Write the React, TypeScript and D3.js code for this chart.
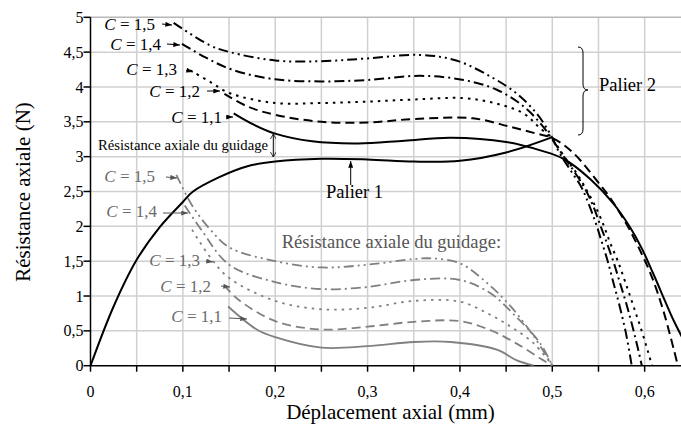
import * as d3 from 'd3';

type Pt = [number, number];

// x ticks (mm) and y ticks (N)
const xLabelTicks = [0, 0.1, 0.2, 0.3, 0.4, 0.5, 0.6];
const xMinorTicks = [0, 0.05, 0.1, 0.15, 0.2, 0.25, 0.3, 0.35, 0.4, 0.45, 0.5, 0.55, 0.6];
const yTicks = [0, 0.5, 1, 1.5, 2, 2.5, 3, 3.5, 4, 4.5, 5];

// common rising branch (Palier 1)
const palier1: Pt[] = [
  [0, 0], [0.025, 0.85], [0.05, 1.52], [0.075, 1.99], [0.1, 2.35], [0.111, 2.5],
  [0.14, 2.71], [0.169, 2.86], [0.2, 2.93], [0.25, 2.97], [0.3, 2.96], [0.35, 2.93],
  [0.4, 2.94], [0.45, 3.06], [0.5, 3.28],
];

// total resistance, C = 1,5 ... 1,1
const up15: Pt[] = [
  [0.09, 4.92], [0.129, 4.6], [0.151, 4.5], [0.2, 4.38], [0.25, 4.37], [0.3, 4.41],
  [0.357, 4.46], [0.396, 4.38], [0.433, 4.15], [0.461, 3.91], [0.483, 3.62], [0.4975, 3.33],
  [0.508, 3.05], [0.52, 2.8], [0.532, 2.55], [0.54, 2.3], [0.547, 2.05], [0.553, 1.8],
  [0.56, 1.5], [0.566, 1.2], [0.573, 0.85], [0.58, 0.45], [0.586, 0],
];
const up14: Pt[] = [
  [0.099, 4.62], [0.125, 4.42], [0.155, 4.24], [0.2, 4.11], [0.25, 4.08], [0.3, 4.1],
  [0.357, 4.16], [0.404, 4.1], [0.44, 3.96], [0.469, 3.72], [0.49, 3.43],
  [0.51, 3.05], [0.523, 2.8], [0.535, 2.55], [0.544, 2.3], [0.551, 2.05], [0.558, 1.8],
  [0.566, 1.5], [0.573, 1.2], [0.581, 0.85], [0.589, 0.45], [0.597, 0],
];
const up13: Pt[] = [
  [0.108, 4.24], [0.13, 4.07], [0.151, 3.91], [0.2, 3.77], [0.25, 3.77], [0.3, 3.79],
  [0.35, 3.82], [0.404, 3.84], [0.44, 3.76], [0.469, 3.62], [0.485, 3.43], [0.5, 3.25],
  [0.513, 3.0], [0.527, 2.75], [0.538, 2.5], [0.548, 2.25], [0.556, 2.0], [0.563, 1.75],
  [0.571, 1.5], [0.579, 1.2], [0.588, 0.85], [0.598, 0.45], [0.608, 0],
];
const up12: Pt[] = [
  [0.145, 3.9], [0.17, 3.72], [0.2, 3.6], [0.25, 3.5], [0.3, 3.49], [0.35, 3.54],
  [0.414, 3.55], [0.454, 3.43], [0.483, 3.33], [0.5, 3.27], [0.523, 3.05], [0.548, 2.66],
  [0.562, 2.42], [0.58, 2.04], [0.593, 1.71], [0.607, 1.3], [0.62, 0.8], [0.636, 0],
];
const up11: Pt[] = [
  [0.155, 3.62], [0.175, 3.47], [0.2, 3.33], [0.24, 3.22], [0.29, 3.19], [0.34, 3.23],
  [0.39, 3.27], [0.45, 3.21], [0.487, 3.09], [0.512, 2.97], [0.541, 2.68], [0.566, 2.33],
  [0.584, 1.99], [0.597, 1.68], [0.609, 1.33], [0.631, 0.66], [0.64, 0.42], [0.65, 0.12],
];

// guide resistance, C = 1,5 ... 1,1
const gd15: Pt[] = [
  [0.093, 2.74], [0.11, 2.3], [0.13, 1.95], [0.15, 1.7], [0.2, 1.5], [0.25, 1.41],
  [0.3, 1.45], [0.35, 1.53], [0.37, 1.54], [0.4, 1.47], [0.43, 1.18], [0.455, 0.85],
  [0.48, 0.42], [0.5, 0],
];
const gd14: Pt[] = [
  [0.102, 2.3], [0.12, 1.95], [0.15, 1.45], [0.2, 1.2], [0.25, 1.1], [0.3, 1.13],
  [0.35, 1.23], [0.4, 1.23], [0.433, 1.04], [0.461, 0.7], [0.487, 0.32], [0.5, 0],
];
const gd13: Pt[] = [
  [0.11, 1.95], [0.13, 1.55], [0.15, 1.26], [0.2, 0.93], [0.25, 0.81], [0.3, 0.83],
  [0.35, 0.93], [0.4, 0.92], [0.43, 0.75], [0.455, 0.56], [0.48, 0.32], [0.5, 0],
];
const gd12: Pt[] = [
  [0.145, 1.15], [0.16, 0.95], [0.2, 0.64], [0.25, 0.52], [0.3, 0.56], [0.35, 0.63],
  [0.4, 0.64], [0.433, 0.51], [0.461, 0.32], [0.49, 0.08], [0.5, 0],
];
const gd11: Pt[] = [
  [0.149, 0.85], [0.18, 0.52], [0.2, 0.41], [0.25, 0.26], [0.3, 0.28], [0.35, 0.34],
  [0.39, 0.34], [0.44, 0.23], [0.461, 0.08], [0.48, 0],
];

const cNames = ['1,5', '1,4', '1,3', '1,2', '1,1'];
const upperSeries = [up15, up14, up13, up12, up11];
const guideSeries = [gd15, gd14, gd13, gd12, gd11];
const dashes = ['10,4,2,4,2,4', '10,4,2,4', '2.5,5', '9,5', null];

// label placement: [text end x, text y, arrow from x, arrow to x, arrow y0, arrow y1] (px)
const upperLabelPos = [
  [155, 24, 162, 172, 24, 25],
  [161, 44, 167, 180, 44, 45],
  [177, 69, 186, 193, 70, 72],
  [200, 91, 207, 220, 91, 91],
  [222, 117, 226, 233, 117, 117],
];
const guideLabelPos = [
  [155, 176, 166, 177, 177, 178],
  [157, 211, 163, 188, 213, 213],
  [200, 260, 206, 213, 261, 262],
  [211, 286, 221, 230, 286, 287],
  [222, 316, 229, 247, 318, 319],
];

const W = 681;
const H = 427;
const left = 90.5;
const right = 681.6;
const top = 17.3;
const bottom = 365.7;
const FONT = '"Liberation Serif", "Times New Roman", serif';
const GRAY = '#808080';

const fmt = (v: number) => String(v).replace('.', ',');

export default function App() {
  const x = d3.scaleLinear().domain([0, 0.64]).range([left, right]);
  const y = d3.scaleLinear().domain([0, 5]).range([bottom, top]);
  const line = d3
    .line<Pt>()
    .x(d => x(d[0]))
    .y(d => y(d[1]))
    .curve(d3.curveCatmullRom.alpha(0.5));

  return (
    <svg
      width={W}
      height={H}
      style={{ position: 'absolute', left: 0, top: 0, background: '#fff' }}
      fontFamily={FONT}
    >
      <defs>
        <clipPath id="plot">
          <rect x={left} y={top - 2} width={W - left} height={bottom - top + 2} />
        </clipPath>
        <marker id="ah" viewBox="0 0 8 6" refX="8" refY="3" markerWidth="7" markerHeight="5" orient="auto">
          <path d="M0,0 L8,3 L0,6 z" fill="#000" />
        </marker>
        <marker id="ahg" viewBox="0 0 8 6" refX="8" refY="3" markerWidth="7" markerHeight="5" orient="auto">
          <path d="M0,0 L8,3 L0,6 z" fill="#555" />
        </marker>
        <marker id="open" viewBox="0 0 8 8" refX="7" refY="4" markerWidth="6" markerHeight="6" orient="auto-start-reverse">
          <path d="M0,0 L7,4 L0,8" fill="none" stroke="#000" strokeWidth="1" />
        </marker>
      </defs>

      {/* grid */}
      <g stroke="#d0d0d0" strokeWidth={1.5}>
        {xMinorTicks.filter(t => t > 0).map(t => (
          <line key={'gx' + t} x1={x(t)} x2={x(t)} y1={top} y2={bottom} />
        ))}
        {yTicks.filter(t => t > 0).map(t => (
          <line key={'gy' + t} x1={left} x2={W} y1={y(t)} y2={y(t)} stroke={t === 5 ? '#b8b8b8' : '#d0d0d0'} />
        ))}
      </g>

      {/* axes */}
      <g stroke="#000" strokeWidth={1.5}>
        <line x1={left} x2={left} y1={top} y2={bottom} />
        <line x1={left} x2={W} y1={bottom} y2={bottom} />
        {yTicks.map(t => (
          <line key={'ty' + t} x1={left - 7} x2={left} y1={y(t)} y2={y(t)} />
        ))}
        {xMinorTicks.map(t => (
          <line key={'tx' + t} x1={x(t)} x2={x(t)} y1={bottom} y2={bottom + 6} />
        ))}
      </g>
      <g fontSize={16} fill="#000">
        {yTicks.map(t => (
          <text key={'ly' + t} x={left - 7} y={y(t)} dy="0.35em" textAnchor="end">
            {fmt(t)}
          </text>
        ))}
        {xLabelTicks.map(t => (
          <text key={'lx' + t} x={x(t)} y={397} textAnchor="middle">
            {fmt(t)}
          </text>
        ))}
      </g>
      <text x={390.5} y={419} textAnchor="middle" fontSize={21}>
        Déplacement axial (mm)
      </text>
      <text transform="translate(30,192) rotate(-90)" textAnchor="middle" fontSize={21}>
        Résistance axiale (N)
      </text>

      {/* curves */}
      <g clipPath="url(#plot)" fill="none">
        {guideSeries.map((s, i) => (
          <path
            key={'g' + i}
            d={line(s) ?? ''}
            stroke={GRAY}
            strokeWidth={1.8}
            strokeDasharray={dashes[i] ?? undefined}
          />
        ))}
        <path d={line(palier1) ?? ''} stroke="#000" strokeWidth={2} />
        {upperSeries.map((s, i) => (
          <path
            key={'u' + i}
            d={line(s) ?? ''}
            stroke="#000"
            strokeWidth={2}
            strokeDasharray={dashes[i] ?? undefined}
          />
        ))}
      </g>

      {/* C labels */}
      <g fontSize={17}>
        {upperLabelPos.map((p, i) => (
          <g key={'ul' + i}>
            <text x={p[0]} y={p[1]} dy="0.35em" textAnchor="end" fill="#000">
              <tspan fontStyle="italic">C</tspan> = {cNames[i]}
            </text>
            <line x1={p[2]} x2={p[3]} y1={p[4]} y2={p[5]} stroke="#000" strokeWidth={1} markerEnd="url(#ah)" />
          </g>
        ))}
        {guideLabelPos.map((p, i) => (
          <g key={'gl' + i}>
            <text x={p[0]} y={p[1]} dy="0.35em" textAnchor="end" fill="#6a6a6a">
              <tspan fontStyle="italic">C</tspan> = {cNames[i]}
            </text>
            <line x1={p[2]} x2={p[3]} y1={p[4]} y2={p[5]} stroke="#555" strokeWidth={1} markerEnd="url(#ahg)" />
          </g>
        ))}
      </g>

      {/* annotations */}
      <text x={98} y={145} dy="0.35em" fontSize={14.7} fill="#000">
        Résistance axiale du guidage
      </text>
      <line x1={273.3} x2={273.3} y1={134} y2={157} stroke="#000" strokeWidth={1} markerStart="url(#open)" markerEnd="url(#open)" />
      <text x={281.7} y={242} dy="0.35em" fontSize={18.5} fill="#555">
        Résistance axiale du guidage:
      </text>
      <text x={326} y={192} dy="0.35em" fontSize={18.5} fill="#000">
        Palier 1
      </text>
      <line x1={350.7} x2={350.7} y1={185} y2={161} stroke="#000" strokeWidth={1} markerEnd="url(#ah)" />
      <path
        d="M578,47 Q583,47 583,53 L583,84 Q583,90 588,90 Q583,90 583,96 L583,129 Q583,135 578,135"
        fill="none"
        stroke="#000"
        strokeWidth={1}
      />
      <text x={599} y={85} dy="0.35em" fontSize={18.5} fill="#000">
        Palier 2
      </text>
    </svg>
  );
}
